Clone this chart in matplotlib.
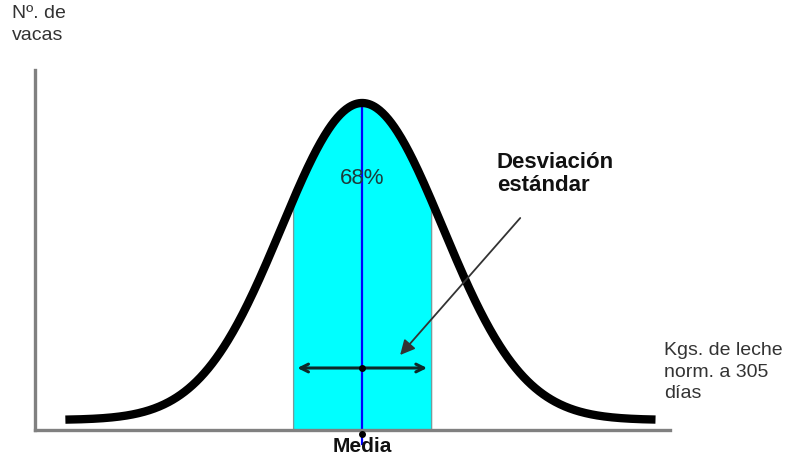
import numpy as np
import matplotlib.pyplot as plt

# curve in units of one standard deviation (hand drawn, a bit wider than a true gaussian)
mean = 0.0
sd = 1.0
curve_sd = 1.17
curve_range = (-4.30, 4.25)
base_level = 10
peak_height = 327
shade_range = (-1.0, 1.0)
arrow_level = 62
arrow_range = (-0.94, 0.94)
pct_label = "68%"

plt.rcParams['font.family'] = ['Liberation Sans', 'DejaVu Sans']

fig = plt.figure(figsize=(7.94, 4.61), dpi=100)
W, H = 794, 461
ax = fig.add_axes([35 / W, (H - 430) / H, (670 - 35) / W, (430 - 70) / H])
ax.set_xlim(-4.74, 4.46)
ax.set_ylim(0, 360)

x = np.linspace(curve_range[0], curve_range[1], 600)
y = base_level + (peak_height - base_level) * np.exp(-0.5 * ((x - mean) / curve_sd) ** 2)

xs = np.linspace(shade_range[0], shade_range[1], 200)
ys = base_level + (peak_height - base_level) * np.exp(-0.5 * ((xs - mean) / curve_sd) ** 2)
ax.fill_between(xs, 0, ys, color='#00ffff', edgecolor='#7a9a9a', linewidth=0.8, zorder=1)
ax.plot([shade_range[0]] * 2, [0, ys[0]], color='#7a9a9a', lw=0.8, zorder=1)
ax.plot([shade_range[1]] * 2, [0, ys[-1]], color='#7a9a9a', lw=0.8, zorder=1)

# mean line
ax.plot([mean, mean], [-14, peak_height], color='#0000ff', lw=1.6, zorder=2, clip_on=False)
ax.plot(mean, -4, 'o', color='black', ms=4, zorder=4, clip_on=False)

ax.plot(x, y, color='black', lw=6, solid_capstyle='butt', zorder=3)

# double arrow for the standard deviation
ax.annotate('', xy=(arrow_range[0], arrow_level), xytext=(arrow_range[1], arrow_level),
            arrowprops=dict(arrowstyle='<->', color='#0d2a2a', lw=2.2,
                            mutation_scale=14, shrinkA=0, shrinkB=0), zorder=4)
ax.plot(mean, arrow_level, 'o', color='black', ms=4, zorder=5)

ax.annotate('', xy=(0.55, 75), xytext=(2.29, 212),
            arrowprops=dict(arrowstyle='-|>', color='#333333', lw=1.3,
                            mutation_scale=22, shrinkA=0, shrinkB=0), zorder=4)

ax.text(mean, 252, pct_label, ha='center', va='center', fontsize=16, color='#1c3c3c', zorder=5)

for s in ['top', 'right']:
    ax.spines[s].set_visible(False)
for s in ['left', 'bottom']:
    ax.spines[s].set_color('#808080')
    ax.spines[s].set_linewidth(2.4)
ax.set_xticks([])
ax.set_yticks([])
ax.patch.set_alpha(0)

fig.text(12 / W, 1 - 5 / H, "Nº. de\nvacas", ha='left', va='top', fontsize=14,
         color='#333333', linespacing=1.35)
fig.text(664 / W, 1 - 342 / H, "Kgs. de leche\nnorm. a 305\ndías", ha='left', va='top',
         fontsize=14, color='#333333', linespacing=1.35)
fig.text(497 / W, 1 - 152 / H, "Desviación\nestándar", ha='left', va='top', fontsize=16,
         fontweight='bold', color='#111111', linespacing=1.15)
fig.text(362 / W, 1 - 446 / H, "Media", ha='center', va='center', fontsize=15,
         fontweight='bold', color='#111111')

fig.savefig('out.png', dpi=100)
